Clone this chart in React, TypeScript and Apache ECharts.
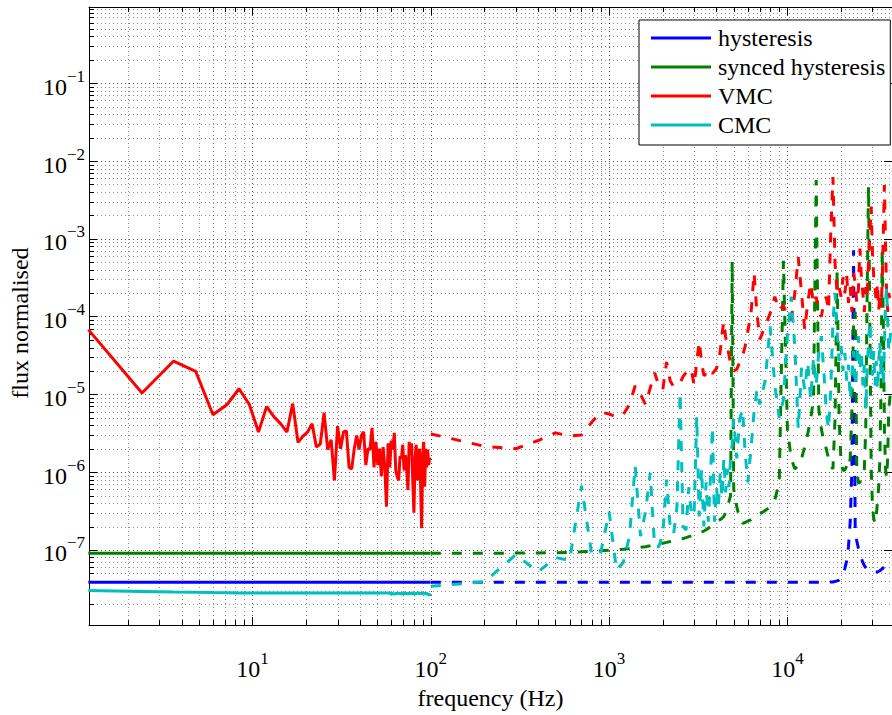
import React, { useEffect, useRef } from 'react';
import * as echarts from 'echarts';

// ---------- data ----------
const seriesNames = ['hysteresis', 'synced hysteresis', 'VMC', 'CMC'];
const seriesColors = ['#0000FF', '#008000', '#FF0000', '#00BFBF'];

const xExponents = [1, 2, 3, 4];
const yExponents = [-7, -6, -5, -4, -3, -2, -1];

// fine resolution part (solid), 1.2 Hz bins
const solidFreq = [
  1.2, 2.4, 3.6, 4.8, 6, 7.2, 8.4, 9.6, 10.8, 12, 13.2, 14.4, 15.6, 16.8, 18, 19.2, 20.4, 21.6, 22.8, 24,
  25.2, 26.4, 27.6, 28.8, 30, 31.2, 32.4, 33.6, 34.8, 36, 37.2, 38.4, 39.6, 40.8, 42, 43.2, 44.4, 45.6, 46.8, 48,
  49.2, 50.4, 51.6, 52.8, 54, 55.2, 56.4, 57.6, 58.8, 60, 61.2, 62.4, 63.6, 64.8, 66, 67.2, 68.4, 69.6, 70.8, 72,
  73.2, 74.4, 75.6, 76.8, 78, 79.2, 80.4, 81.6, 82.8, 84, 85.2, 86.4, 87.6, 88.8, 90, 91.2, 92.4, 93.6, 94.8, 96,
  97.2, 98.4, 99.6,
];

const vmcSolid = [
  6.8e-5, 1.04e-5, 2.67e-5, 1.98e-5, 5.46e-6, 7.4e-6, 1.18e-5, 7.4e-6, 3.28e-6, 6.95e-6,
  5.15e-6, 4.17e-6, 3.28e-6, 7.6e-6, 2.41e-6, 2.9e-6, 3.3e-6, 4.2e-6, 2.1e-6, 2.3e-6,
  5.8e-6, 1.95e-6, 2.6e-6, 7.8e-7, 3.9e-6, 2.0e-6, 3.3e-6, 3.4e-6, 1.15e-6, 1.1e-6,
  2.0e-6, 2.95e-6, 1.95e-6, 2.95e-6, 3.3e-6, 1.23e-6, 2.0e-6, 1.95e-6, 3.7e-6, 1.15e-6,
  2.45e-6, 1.23e-6, 2.0e-6, 8.9e-7, 2.1e-6, 1.15e-6, 3.6e-7, 2.35e-6, 1.15e-6, 2.55e-6,
  1.95e-6, 3.2e-6, 1.05e-6, 8.7e-7, 7.8e-7, 1.6e-6, 1.5e-6, 2.25e-6, 1.05e-6, 1.65e-6,
  1.15e-6, 5.9e-7, 2.45e-6, 1.65e-6, 2.35e-6, 7.8e-7, 3.0e-7, 1.5e-6, 2.25e-6, 7.8e-7,
  1.65e-6, 2.0e-6, 7.1e-7, 1.9e-7, 1.65e-6, 2.45e-6, 6.5e-7, 2.0e-6, 1.15e-6, 1.95e-6,
  1.23e-6, 1.5e-6, 1.45e-6,
];

const cmcSolid = [
  3.0e-8, 2.93e-8, 2.88e-8, 2.85e-8, 2.83e-8, 2.82e-8, 2.8e-8, 2.8e-8, 2.8e-8, 2.8e-8,
  2.8e-8, 2.8e-8, 2.8e-8, 2.8e-8, 2.8e-8, 2.8e-8, 2.8e-8, 2.8e-8, 2.8e-8, 2.8e-8,
  2.8e-8, 2.8e-8, 2.8e-8, 2.8e-8, 2.8e-8, 2.8e-8, 2.8e-8, 2.8e-8, 2.8e-8, 2.8e-8,
  2.8e-8, 2.8e-8, 2.8e-8, 2.8e-8, 2.8e-8, 2.8e-8, 2.8e-8, 2.8e-8, 2.8e-8, 2.8e-8,
  2.8e-8, 2.8e-8, 2.8e-8, 2.8e-8, 2.8e-8, 2.8e-8, 2.8e-8, 2.8e-8, 2.78e-8, 2.72e-8,
  2.75e-8, 2.7e-8, 2.76e-8, 2.73e-8, 2.8e-8, 2.72e-8, 2.77e-8, 2.7e-8, 2.8e-8, 2.74e-8,
  2.78e-8, 2.71e-8, 2.79e-8, 2.73e-8, 2.82e-8, 2.72e-8, 2.76e-8, 2.69e-8, 2.8e-8, 2.74e-8,
  2.85e-8, 2.72e-8, 2.78e-8, 2.7e-8, 2.82e-8, 2.75e-8, 2.8e-8, 2.68e-8, 2.77e-8, 2.72e-8,
  2.66e-8, 2.6e-8, 2.75e-8,
];

const flatFreq = [1.2, 12, 36, 99.6];
const hysSolid = [3.85e-8, 3.85e-8, 3.85e-8, 3.85e-8];
const syncSolid = [9.06e-8, 9.06e-8, 9.06e-8, 9.06e-8];

// coarse resolution part (dashed)
const dashFreq = [
  100, 200, 300, 400, 500, 600, 700, 800, 900, 1000,
  1100, 1200, 1300, 1400, 1500, 1600, 1700, 1800, 1900, 2000,
  2100, 2200, 2300, 2400, 2500, 2600, 2700, 2800, 2900, 3000,
  3100, 3200, 3300, 3400, 3500, 3600, 3700, 3800, 3900, 4000, 4100, 4200, 4300, 4400, 4500, 4600, 4700, 4800,
  4900, 5000, 5200, 5400, 5600, 5800, 6000, 6250, 6500, 6750,
  7000, 7500, 8000, 8500, 9000, 9500, 10000, 10500, 11000, 11500,
  12000, 12500, 13000, 13500, 14000, 14500, 15000, 15500, 16000, 16500,
  17000, 17500, 18000, 18500, 19000, 19500, 20000, 20500, 21000, 21500,
  22000, 22500, 23000, 23500, 24000, 24500, 25000, 25500, 26000, 26500,
  27000, 27500, 28000, 28500, 29000, 29500, 30000, 30500, 31000, 31500,
  32000, 32500, 33000, 33500, 34000, 34500, 35000, 35500, 36000, 36500,
  37000, 38000,
];

const vmcDash = [
  3.1e-6, 2.15e-6, 2.0e-6, 2.55e-6, 3.2e-6, 2.9e-6, 3.0e-6, 4.4e-6, 5.9e-6, 5.6e-6,
  5.1e-6, 5.5e-6, 7.4e-6, 1.29e-5, 1.0e-5, 7.4e-6, 1.2e-5, 1.9e-5, 1.3e-5, 1.15e-5,
  2.6e-5, 1.5e-5, 1.25e-5, 1.3e-5, 1.4e-5, 1.7e-5, 1.9e-5, 2.15e-5, 2.0e-5, 1.3e-5,
  2.6e-5, 4.8e-5, 2.6e-5, 1.75e-5, 1.8e-5, 1.7e-5, 2.0e-5, 1.85e-5, 2.0e-5, 2.15e-5, 2.6e-5, 3.6e-5, 6e-5, 8.6e-5, 5.5e-5, 4.2e-5, 3.2e-5, 2.5e-5,
  2.15e-5, 2.0e-5, 2.1e-5, 2.6e-5, 3.1e-5, 4.2e-5, 6.5e-5, 1.1e-4, 3.65e-4, 1.1e-4,
  5.1e-5, 7.5e-5, 1.1e-4, 1.8e-4, 1.2e-4, 1.4e-4, 1.0e-4, 9e-5, 2e-4, 5.8e-4,
  2e-4, 6.8e-5, 1.5e-4, 2.7e-4, 1.45e-4, 1.8e-4, 1.1e-4, 1.0e-4, 1.5e-4, 1.8e-4,
  1.2e-4, 1.2e-3, 6.2e-3, 4.9e-4, 2e-4, 2.4e-4, 1.8e-4, 3.2e-4, 2e-4, 3.4e-4,
  1.5e-4, 2.4e-4, 1.15e-4, 3.65e-4, 2.7e-4, 1.5e-4, 2.2e-4, 7.5e-4, 3.2e-4, 2e-4,
  1.15e-4, 2.4e-4, 1.8e-4, 4.9e-4, 1.15e-3, 2.6e-3, 6.5e-4, 3.2e-4, 2.4e-4, 1.5e-4,
  2.7e-4, 1.2e-4, 2e-4, 1.3e-4, 2.7e-4, 1.15e-3, 4.9e-3, 8.6e-4, 2e-4, 1.15e-4,
  2e-4, 1.5e-4,
];

const syncDash = [
  9.06e-8, 9.06e-8, 9.1e-8, 9.15e-8, 9.2e-8, 9.3e-8, 9.45e-8, 9.6e-8, 9.75e-8, 9.9e-8,
  1.0e-7, 1.02e-7, 1.04e-7, 1.06e-7, 1.08e-7, 1.1e-7, 1.13e-7, 1.16e-7, 1.19e-7, 1.22e-7,
  1.25e-7, 1.28e-7, 1.31e-7, 1.34e-7, 1.37e-7, 1.4e-7, 1.44e-7, 1.48e-7, 1.52e-7, 1.56e-7,
  1.6e-7, 1.63e-7, 1.69e-7, 1.75e-7, 1.82e-7, 1.9e-7, 2.0e-7, 2.1e-7, 2.2e-7, 2.3e-7, 2.38e-7, 2.45e-7, 2.55e-7, 2.7e-7, 3.0e-7, 3.6e-7, 4.2e-7, 5e-7,
  5.1e-4, 6e-7, 3.6e-7, 2.5e-7, 2.2e-7, 2.25e-7, 2.35e-7, 2.45e-7, 2.7e-7, 2.8e-7,
  2.9e-7, 3.2e-7, 3.6e-7, 4.4e-7, 7.4e-7, 5.2e-4, 3.6e-6, 1.5e-6, 1.1e-6, 1.2e-6,
  1.5e-6, 2.1e-6, 3.1e-6, 4.8e-6, 8.6e-6, 5.7e-3, 6.4e-6, 3.6e-6, 2.5e-6, 2.0e-6,
  1.5e-6, 1.2e-6, 1.1e-6, 4.8e-6, 4e-4, 4.8e-6, 1.3e-6, 1.05e-6, 1.07e-6, 1.2e-6,
  1.1e-6, 1.5e-6, 6.4e-6, 8.6e-5, 1.15e-4, 1.1e-6, 7.2e-7, 7.4e-7, 8.5e-7, 9.8e-7,
  1.1e-6, 3.6e-6, 2e-4, 4.7e-3, 8.6e-5, 1.1e-6, 3.6e-7, 2.5e-7, 2.2e-7, 2.7e-7,
  4.2e-7, 6.4e-7, 1.5e-6, 1.15e-5, 7.5e-4, 8.6e-5, 3.6e-6, 1.1e-6, 8.5e-7, 1.5e-6,
  6.4e-6, 1.15e-5,
];

const cmcDash = [
  3.4e-8, 3.9e-8, 8.7e-8, 5.2e-8, 8e-8, 7.3e-8, 6.7e-7, 8.5e-8, 9.5e-8, 3.1e-7,
  5.5e-8, 6.9e-8, 1.5e-7, 1.2e-6, 1.5e-7, 3.1e-7, 9.8e-7, 1.1e-7, 1.1e-7, 1.6e-7,
  8e-7, 2e-7, 1.6e-7, 3.5e-7, 1.05e-5, 2e-7, 1.8e-7, 6.4e-7, 2.7e-7, 3.1e-7,
  5.2e-6, 2.7e-7, 1.1e-6, 2e-7, 7.4e-7, 2.3e-7, 8.5e-7, 3.8e-6, 2.3e-7, 6.4e-7, 3.6e-7, 9.8e-7, 4.7e-7, 1.5e-6, 5.5e-7, 1.1e-6, 6.4e-7, 1.5e-6,
  2.3e-6, 4.8e-6, 1.5e-6, 4.8e-6, 6.4e-6, 1.75e-6, 7.4e-7, 2e-6, 6e-6, 1.15e-5,
  7.4e-6, 1.5e-5, 7.5e-5, 1.3e-5, 5e-6, 8.6e-6, 5.6e-5, 1.8e-4, 4.2e-5, 3.6e-6,
  2.2e-5, 1.15e-5, 2.6e-5, 8.6e-6, 2.9e-5, 1.3e-5, 3.6e-5, 5.6e-5, 2e-5, 6.4e-6,
  3.6e-6, 1.15e-5, 8.6e-5, 2e-4, 6.5e-5, 2.7e-5, 4.2e-5, 2e-5, 3.4e-5, 1.5e-5,
  2.4e-5, 8.6e-6, 1.75e-5, 3.6e-5, 1.3e-5, 2.6e-5, 5.6e-5, 2e-5, 3.6e-5, 1.3e-5,
  2.4e-5, 6.4e-6, 2e-5, 4.8e-5, 8.6e-5, 3.1e-5, 1.75e-5, 3.6e-5, 1.3e-5, 2.7e-5,
  1.15e-5, 2.4e-5, 4.8e-5, 1.75e-5, 3.1e-5, 1.3e-5, 4.8e-5, 1.5e-4, 2.4e-4, 8.6e-5,
  3.6e-5, 6.5e-5,
];

const hysDashFreq = [
  100, 1000, 10000, 17000, 18000, 19000, 19500, 20000, 20500, 21000,
  21500, 22000, 22500, 23000, 23500, 24000, 24500, 25000, 25500, 26000,
  26500, 27000, 28000, 29000, 30000, 31000, 32000, 33000, 34000, 35000,
  36000, 37000, 38000,
];
const hysDash = [
  3.85e-8, 3.85e-8, 3.85e-8, 3.85e-8, 3.87e-8, 4.0e-8, 4.1e-8, 4.3e-8, 4.8e-8, 5.8e-8,
  7.3e-8, 1.1e-7, 2.3e-7, 1.1e-6, 7.1e-4, 1.75e-7, 1.3e-7, 1.05e-7, 8.9e-8, 7.8e-8,
  6.9e-8, 6.3e-8, 5.6e-8, 5.3e-8, 5.2e-8, 5.2e-8, 5.2e-8, 5.4e-8, 5.7e-8, 6.1e-8,
  6.6e-8, 6.8e-8, 7.0e-8,
];

// ---------- axis extents ----------
const X_MIN = 1.21;
const X_MAX = 38600;
const Y_MIN = 1.08e-8;
const Y_MAX = 0.955;

const FONT = 'Liberation Serif';
const LINE_W = 3;

const minorXVals: number[] = [];
for (let d = 0; d <= 4; d++) for (let m = 2; m <= 9; m++) {
  const v = m * Math.pow(10, d);
  if (v > X_MIN && v < X_MAX) minorXVals.push(v);
}
const minorYVals: number[] = [];
for (let d = -8; d <= -1; d++) for (let m = 2; m <= 9; m++) {
  const v = m * Math.pow(10, d);
  if (v > Y_MIN && v < Y_MAX) minorYVals.push(v);
}

const pair = (xs: number[], ys: number[]) => xs.map((x, i) => [x, ys[i]]);

function powLabel(v: number, exps: number[]) {
  const l = Math.log10(v);
  const r = Math.round(l);
  if (Math.abs(l - r) > 1e-6 || exps.indexOf(r) < 0) return '';
  const e = r < 0 ? '\u2212' + String(-r) : String(r);
  return '{b|10}{s|' + e + '}';
}

const richLabel = {
  b: { fontFamily: FONT, fontSize: 24, color: '#000', lineHeight: 31, verticalAlign: 'bottom' },
  s: { fontFamily: FONT, fontSize: 17, color: '#000', lineHeight: 10, verticalAlign: 'top' },
};

export default function App() {
  const ref = useRef<HTMLDivElement>(null);
  useEffect(() => {
    if (!ref.current) return;
    const chart = echarts.init(ref.current, null, { renderer: 'svg' });

    const lineSeries = (name: string, color: string, data: number[][], dashed: boolean) => ({
      type: 'line',
      name,
      data,
      xAxisIndex: 0,
      yAxisIndex: 0,
      showSymbol: false,
      symbol: 'none',
      clip: true,
      silent: true,
      lineStyle: { color, width: LINE_W, type: dashed ? [10, 11] : 'solid' },
      itemStyle: { color },
      z: 3,
    });

    const minorXSeries = {
      type: 'custom',
      name: '_minorX',
      silent: true,
      xAxisIndex: 0,
      yAxisIndex: 0,
      z: 1,
      data: minorXVals.map((v) => [v, 1e-4]),
      renderItem: (params: any, api: any) => {
        const cs = params.coordSys;
        const x = Math.round(api.coord([api.value(0), 1e-4])[0]) + 0.5;
        const top = cs.y;
        const bot = cs.y + cs.height;
        return {
          type: 'group',
          children: [
            { type: 'line', shape: { x1: x, y1: top, x2: x, y2: bot }, style: { stroke: '#000', opacity: 0.45, lineWidth: 1, lineDash: [1, 3] } },
            { type: 'line', shape: { x1: x, y1: bot, x2: x, y2: bot - 5 }, style: { stroke: '#000', lineWidth: 1 } },
            { type: 'line', shape: { x1: x, y1: top, x2: x, y2: top + 5 }, style: { stroke: '#000', lineWidth: 1 } },
          ],
        };
      },
    };
    const minorYSeries = {
      type: 'custom',
      name: '_minorY',
      silent: true,
      xAxisIndex: 0,
      yAxisIndex: 0,
      z: 1,
      data: minorYVals.map((v) => [100, v]),
      renderItem: (params: any, api: any) => {
        const cs = params.coordSys;
        const y = Math.round(api.coord([100, api.value(1)])[1]) + 0.5;
        const l = cs.x;
        const r = cs.x + cs.width;
        return {
          type: 'group',
          children: [
            { type: 'line', shape: { x1: l, y1: y, x2: r, y2: y }, style: { stroke: '#000', opacity: 0.45, lineWidth: 1, lineDash: [1, 3] } },
            { type: 'line', shape: { x1: l, y1: y, x2: l + 5, y2: y }, style: { stroke: '#000', lineWidth: 1 } },
          ],
        };
      },
    };

    const axisCommon = {
      type: 'log',
      logBase: 10,
      axisLine: { show: true, lineStyle: { color: '#000', width: 1 } },
      axisTick: { show: true, inside: true, length: 8, lineStyle: { color: '#000', width: 1 } },
    };

    chart.setOption({
      animation: false,
      backgroundColor: '#fff',
      textStyle: { fontFamily: FONT },
      grid: { left: 86, right: -2, top: 7, bottom: 74, containLabel: false },
      legend: {
        data: seriesNames.map((n) => ({ name: n, icon: 'rect' })),
        orient: 'vertical',
        left: 639,
        top: 20,
        padding: [6, 5, 8, 12],
        itemGap: 5,
        itemWidth: 60,
        itemHeight: 3,
        backgroundColor: '#fff',
        borderColor: '#000',
        borderWidth: 1,
        borderRadius: 0,
        selectedMode: false,
        textStyle: { fontFamily: FONT, fontSize: 24, color: '#000', lineHeight: 24, padding: [0, 0, 0, 2] },
      },
      xAxis: [
        {
          ...axisCommon,
          position: 'bottom',
          min: X_MIN,
          max: X_MAX,
          name: 'frequency (Hz)',
          nameLocation: 'middle',
          nameGap: 47,
          nameTextStyle: { fontFamily: FONT, fontSize: 24, color: '#000' },
          axisLabel: {
            show: true,
            margin: 25,
            showMinLabel: false,
            showMaxLabel: false,
            formatter: (v: number) => powLabel(v, xExponents),
            rich: richLabel,
          },
          splitLine: { show: true, lineStyle: { color: '#000', opacity: 0.7, width: 1, type: [1, 3] } },
        },
        {
          ...axisCommon,
          position: 'top',
          min: X_MIN,
          max: X_MAX,
          axisLabel: { show: false },
          splitLine: { show: false },
        },
      ],
      yAxis: [
        {
          ...axisCommon,
          position: 'left',
          min: Y_MIN,
          max: Y_MAX,
          name: 'flux normalised',
          nameLocation: 'middle',
          nameGap: 52,
          nameTextStyle: { fontFamily: FONT, fontSize: 24, color: '#000', padding: [0, 14, 0, 0] },
          axisLabel: {
            show: true,
            margin: 4,
            showMinLabel: false,
            showMaxLabel: false,
            formatter: (v: number) => powLabel(v, yExponents),
            rich: richLabel,
          },
          splitLine: { show: true, lineStyle: { color: '#000', opacity: 0.7, width: 1, type: [1, 3] } },
        },
        {
          ...axisCommon,
          position: 'right',
          min: Y_MIN,
          max: Y_MAX,
          axisLabel: { show: false },
          splitLine: { show: false },
        },
      ],
      series: [
        minorXSeries,
        minorYSeries,
        lineSeries(seriesNames[0], seriesColors[0], pair(flatFreq, hysSolid), false),
        lineSeries(seriesNames[1], seriesColors[1], pair(flatFreq, syncSolid), false),
        lineSeries(seriesNames[2], seriesColors[2], pair(solidFreq, vmcSolid), false),
        lineSeries(seriesNames[3], seriesColors[3], pair(solidFreq, cmcSolid), false),
        lineSeries(seriesNames[0], seriesColors[0], pair(hysDashFreq, hysDash), true),
        lineSeries(seriesNames[1], seriesColors[1], pair(dashFreq, syncDash), true),
        lineSeries(seriesNames[2], seriesColors[2], pair(dashFreq, vmcDash), true),
        lineSeries(seriesNames[3], seriesColors[3], pair(dashFreq, cmcDash), true),
      ],
    } as any);

    return () => chart.dispose();
  }, []);

  return (
    <div
      ref={ref}
      style={{ position: 'absolute', left: 0, top: 0, width: 892, height: 715, background: '#fff' }}
    />
  );
}
